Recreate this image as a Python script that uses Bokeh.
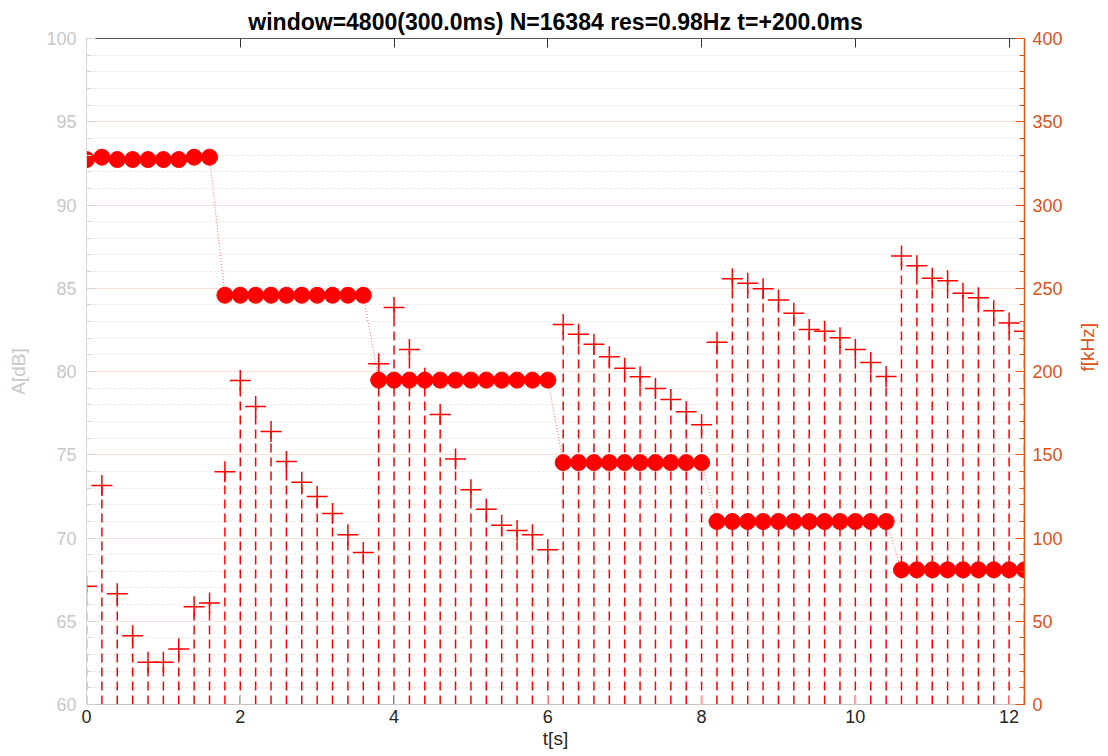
import math
from bokeh.plotting import figure
from bokeh.models import Range1d, LinearAxis, SingleIntervalTicker
from bokeh.embed import file_html
from bokeh.resources import INLINE

# ---------------- data ----------------
t_s = [0.0, 0.2, 0.4, 0.6, 0.8, 1.0, 1.2, 1.4, 1.6, 1.8,
       2.0, 2.2, 2.4, 2.6, 2.8, 3.0, 3.2, 3.4, 3.6, 3.8,
       4.0, 4.2, 4.4, 4.6, 4.8, 5.0, 5.2, 5.4, 5.6, 5.8,
       6.0, 6.2, 6.4, 6.6, 6.8, 7.0, 7.2, 7.4, 7.6, 7.8,
       8.0, 8.2, 8.4, 8.6, 8.8, 9.0, 9.2, 9.4, 9.6, 9.8,
       10.0, 10.2, 10.4, 10.6, 10.8, 11.0, 11.2, 11.4, 11.6, 11.8,
       12.0, 12.2]

amp_db = [67.10, 73.15, 66.65, 64.13, 62.54, 62.54, 63.34, 65.87, 66.09, 73.98,
          79.46, 77.90, 76.40, 74.60, 73.35, 72.50, 71.47, 70.20, 69.13, 80.46,
          83.84, 81.32, 79.60, 77.42, 74.74, 72.90, 71.73, 70.77, 70.45, 70.20,
          69.29, 82.82, 82.24, 81.64, 80.88, 80.20, 79.68, 78.98, 78.32, 77.58,
          76.80, 81.76, 85.57, 85.30, 84.97, 84.30, 83.50, 82.52, 82.42, 82.02,
          81.32, 80.54, 79.70, 86.93, 86.35, 85.60, 85.45, 84.70, 84.43, 83.65,
          82.92, 82.42]

freq_khz = [327.3, 328.7, 327.3, 327.3, 327.3, 327.3, 327.3, 328.7, 328.7,
            245.8, 245.8, 245.8, 245.8, 245.8, 245.8, 245.8, 245.8, 245.8, 245.8,
            194.8, 194.8, 194.8, 194.8, 194.8, 194.8, 194.8, 194.8, 194.8, 194.8, 194.8, 194.8,
            145.3, 145.3, 145.3, 145.3, 145.3, 145.3, 145.3, 145.3, 145.3, 145.3,
            109.9, 109.9, 109.9, 109.9, 109.9, 109.9, 109.9, 109.9, 109.9, 109.9, 109.9, 109.9,
            80.9, 80.9, 80.9, 80.9, 80.9, 80.9, 80.9, 80.9, 80.9]

stem_base = [60.0] * len(t_s)

title_text = "window=4800(300.0ms) N=16384 res=0.98Hz t=+200.0ms"
x_label = "t[s]"
yl_label = "A[dB]"
yr_label = "f[kHz]"

FONT = "Liberation Sans"
ORANGE = "#D95319"
LGRAY = "#c8c8c8"
DARK = "#262626"

p = figure(frame_width=938, frame_height=666,
           x_range=Range1d(0, 12.2), y_range=Range1d(60, 100),
           output_backend="svg", toolbar_location=None,
           min_border_left=86, min_border_right=80, min_border_top=38, min_border_bottom=46,
           background_fill_color="white", border_fill_color="white")
p.outline_line_color = None
p.extra_y_ranges = {"f": Range1d(0, 400)}

# title
p.title.text = title_text
p.title.align = "center"
p.title.text_font = FONT
p.title.text_font_size = "23px"
p.title.text_font_style = "bold"
p.title.text_color = "black"
p.title.standoff = 8

# grids
p.xgrid.grid_line_color = None
p.ygrid.grid_line_color = "#f8e2d8"
p.ygrid.grid_line_width = 1
p.ygrid.minor_grid_line_color = "#f0c4b4"
p.ygrid.minor_grid_line_dash = "1 3"
p.ygrid.minor_grid_line_width = 1

# bottom axis
xa = p.xaxis[0]
xa.ticker = SingleIntervalTicker(interval=2, num_minor_ticks=0)
xa.axis_line_color = "#cdc3bd"
xa.major_tick_in = 9
xa.major_tick_out = 0
xa.major_tick_line_color = "#cdc3bd"
xa.minor_tick_line_color = None
xa.major_label_text_font = FONT
xa.major_label_text_font_size = "18px"
xa.major_label_text_color = DARK
xa.major_label_standoff = 5
xa.axis_label = x_label
xa.axis_label_text_font = FONT
xa.axis_label_text_font_size = "19px"
xa.axis_label_text_font_style = "normal"
xa.axis_label_text_color = DARK
xa.axis_label_standoff = 2

# left axis
ya = p.yaxis[0]
ya.ticker = SingleIntervalTicker(interval=5, num_minor_ticks=5)
ya.axis_line_color = "#d4d4d4"
ya.major_tick_in = 9
ya.major_tick_out = 0
ya.minor_tick_in = 5
ya.minor_tick_out = 0
ya.major_tick_line_color = "#d4d4d4"
ya.minor_tick_line_color = "#d4d4d4"
ya.major_label_text_font = FONT
ya.major_label_text_font_size = "18px"
ya.major_label_text_color = LGRAY
ya.major_label_standoff = 10
ya.axis_label = yl_label
ya.axis_label_text_font = FONT
ya.axis_label_text_font_size = "19px"
ya.axis_label_text_font_style = "normal"
ya.axis_label_text_color = LGRAY
ya.axis_label_standoff = 14

# right axis
ra = LinearAxis(y_range_name="f",
                ticker=SingleIntervalTicker(interval=50, num_minor_ticks=5))
ra.axis_line_color = ORANGE
ra.axis_line_width = 1.5
ra.major_tick_in = 9
ra.major_tick_out = 0
ra.minor_tick_in = 5
ra.minor_tick_out = 0
ra.major_tick_line_color = ORANGE
ra.minor_tick_line_color = ORANGE
ra.major_label_text_font = FONT
ra.major_label_text_font_size = "18px"
ra.major_label_text_color = ORANGE
ra.major_label_standoff = 8
ra.axis_label = yr_label
ra.axis_label_text_font = FONT
ra.axis_label_text_font_size = "19px"
ra.axis_label_text_font_style = "normal"
ra.axis_label_text_color = ORANGE
ra.axis_label_standoff = 22
try:
    ra.axis_label_orientation = math.pi / 2
except Exception:
    pass
p.add_layout(ra, "right")

# top box axis (ticks only, no labels)
ta = LinearAxis(ticker=SingleIntervalTicker(interval=2, num_minor_ticks=0))
ta.axis_line_color = "#555555"
ta.major_tick_in = 9
ta.major_tick_out = 0
ta.major_tick_line_color = "#333333"
ta.minor_tick_line_color = None
ta.major_label_text_color = None
ta.major_label_text_font_size = "1px"
ta.major_label_standoff = 0
p.add_layout(ta, "above")

# stems
p.segment(x0=t_s, y0=stem_base, x1=t_s, y1=amp_db,
          line_color="red", line_width=1.5, line_dash="9 5")
# amplitude markers
p.scatter(t_s, amp_db, marker="cross", size=21, line_color="red", line_width=1.5)
# frequency line + markers
p.line(t_s, freq_khz, y_range_name="f", line_color="red", line_alpha=0.6,
       line_width=1, line_dash="1 2")
p.scatter(t_s, freq_khz, y_range_name="f", marker="circle", size=16,
          fill_color="red", line_color="red", line_width=1)

open("out.html", "w").write(file_html(p, INLINE))
